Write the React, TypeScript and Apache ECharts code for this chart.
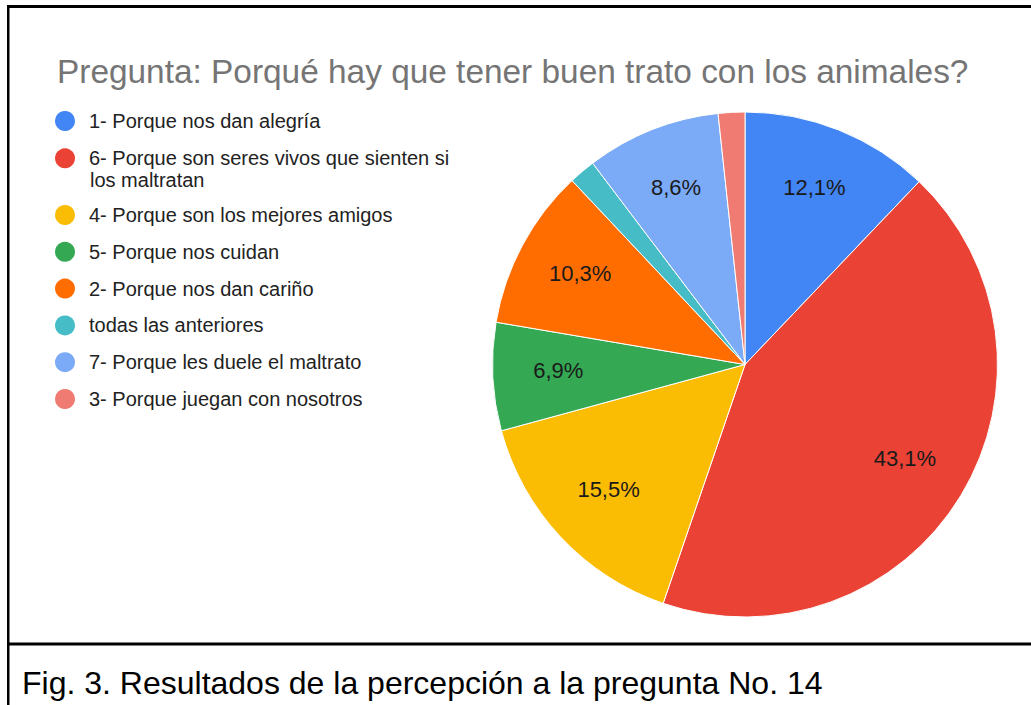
import React, { useEffect, useRef } from "react";
import * as echarts from "echarts";

const titleText = "Pregunta: Porqué hay que tener buen trato con los animales?";
const captionText = "Fig. 3. Resultados de la percepción a la pregunta No. 14";

const categories = [
  "1- Porque nos dan alegría",
  "6- Porque son seres vivos que sienten si los maltratan",
  "4- Porque son los mejores amigos",
  "5- Porque nos cuidan",
  "2- Porque nos dan cariño",
  "todas las anteriores",
  "7- Porque les duele el maltrato",
  "3- Porque juegan con nosotros",
];
// percentages (the two thin slices are ~1,7 %)
const percentages = [12.1, 43.1, 15.5, 6.9, 10.3, 1.7, 8.6, 1.7];
const colors = ["#4285F4", "#EA4335", "#FBBC04", "#34A853", "#FF6D01", "#46BDC6", "#7BAAF7", "#F07B72"];
// how the long legend entry wraps
const wrapFirst = "6- Porque son seres vivos que sienten si";
const wrapSecond = "los maltratan";

const FONT = "'Liberation Sans', Arial, Helvetica, sans-serif";

export default function App() {
  const ref = useRef<HTMLDivElement>(null);
  useEffect(() => {
    if (!ref.current) return;
    const chart = echarts.init(ref.current, undefined, { renderer: "svg" });
    const data = categories.map((name, i) => ({
      name,
      value: percentages[i],
      itemStyle: { color: colors[i] },
    }));
    const labelData = categories.map((name, i) => ({
      name,
      value: percentages[i],
      label: { show: percentages[i] >= 5 },
    }));
    const legendCommon = {
      orient: "vertical" as const,
      left: 55,
      icon: "circle",
      itemWidth: 38,
      itemHeight: 20,
      padding: 0,
      selectedMode: false,
      itemStyle: { borderWidth: 0 },
      textStyle: { fontSize: 20, lineHeight: 20, color: "#222222", fontFamily: FONT },
      formatter: (name: string) => (name === categories[1] ? wrapFirst : name),
    };
    chart.setOption({
      animation: false,
      backgroundColor: "#ffffff",
      title: {
        text: titleText,
        left: 52,
        top: 50,
        textStyle: { fontSize: 33.4, fontWeight: "normal", color: "#757575", fontFamily: FONT },
      },
      legend: [
        { ...legendCommon, top: 111, itemGap: 17.3, data: categories.slice(0, 2) },
        { ...legendCommon, top: 205, itemGap: 16.8, data: categories.slice(2) },
      ],
      series: [
        {
          type: "pie",
          center: [745, 364.5],
          radius: [0, 252.5],
          startAngle: 90,
          clockwise: true,
          label: { show: false },
          labelLine: { show: false },
          emphasis: { disabled: true },
          itemStyle: { borderColor: "#ffffff", borderWidth: 1 },
          data,
        },
        {
          type: "pie",
          center: [745, 364.5],
          radius: [0, 368],
          startAngle: 90,
          clockwise: true,
          silent: true,
          z: 3,
          itemStyle: { color: "rgba(0,0,0,0)" },
          labelLine: { show: false },
          emphasis: { disabled: true },
          label: {
            position: "inside",
            fontSize: 22,
            color: "#1a1a1a",
            fontFamily: FONT,
            offset: [0, -3],
            formatter: (p: any) => p.value.toFixed(1).replace(".", ",") + "%",
          },
          data: labelData,
        },
      ],
      graphic: [
        { type: "rect", shape: { x: 7, y: 5, width: 1030, height: 3 }, style: { fill: "#000" } },
        { type: "rect", shape: { x: 7, y: 5, width: 2.5, height: 705 }, style: { fill: "#000" } },
        { type: "rect", shape: { x: 7, y: 642.5, width: 1030, height: 3 }, style: { fill: "#000" } },
        {
          type: "text",
          x: 90,
          y: 179.5,
          style: { text: wrapSecond, fontSize: 20, fill: "#222222", fontFamily: FONT, verticalAlign: "middle" },
        },
        {
          type: "text",
          x: 22,
          y: 683,
          style: { text: captionText, fontSize: 32, fill: "#000000", fontFamily: FONT, verticalAlign: "middle" },
        },
      ],
    });
    return () => chart.dispose();
  }, []);
  return (
    <div
      ref={ref}
      style={{ position: "absolute", left: 0, top: 0, width: 1031, height: 705, background: "#fff" }}
    />
  );
}
